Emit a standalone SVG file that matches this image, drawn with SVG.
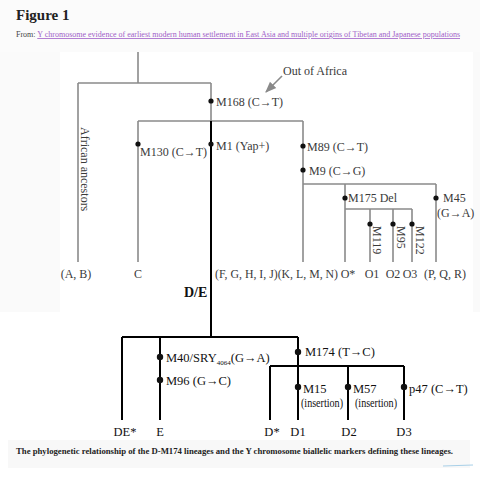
<svg xmlns="http://www.w3.org/2000/svg" width="480" height="495" viewBox="0 0 480 495">
<style>
.g{stroke:#8a8a8a;stroke-width:1.6;fill:none}
.k{stroke:#000;stroke-width:2;fill:none}
.t{font-family:"Liberation Serif","Times New Roman",serif;font-size:12px;fill:#3a3a3a}
.b{font-family:"Liberation Serif","Times New Roman",serif;font-size:12.5px;fill:#111}
.dg{fill:#111}
</style>
<defs>
<marker id="ah" viewBox="0 0 10 10" refX="9" refY="5" markerWidth="7" markerHeight="7" orient="auto">
<path d="M0,1 L10,5 L0,9 z" fill="#8a8a8a"/>
</marker>
</defs>
<rect x="0" y="0" width="480" height="495" fill="#ffffff"/>
<rect x="0" y="0" width="480" height="52" fill="#fbfbfb"/>
<rect x="0" y="52" width="60" height="260" fill="#fafafa"/>
<rect x="473" y="52" width="7" height="260" fill="#fafafa"/>
<rect x="8" y="440" width="462" height="28" fill="#f8f8f8"/>
<text x="16" y="20" font-family="Liberation Serif,serif" font-weight="bold" font-size="15" fill="#222">Figure 1</text>
<text x="16" y="37" font-family="Liberation Serif,serif" font-size="8" fill="#444">From: <tspan fill="#a060c8" text-decoration="underline">Y chromosome evidence of earliest modern human settlement in East Asia and multiple origins of Tibetan and Japanese populations</tspan></text>

<g id="connectors">
<path class="g" d="M138,52 V83 M78,83 H211 M78,83 V262 M211,83 V121 M138,121 H303 M138,121 V262 M303,121 V262 M303,184 H436 M345,184 V262 M436,184 V262 M345,209 H412 M370,209 V262 M393,209 V262 M412,209 V262"/>
<path class="k" d="M211,121 V337 M122,337 H298 M122,337 V420 M160,337 V420 M298,337 V420 M270,366 H404 M270,366 V420 M348,366 V420 M404,366 V420"/>
<line class="g" x1="282" y1="76" x2="266" y2="92" marker-end="url(#ah)" stroke-width="1.2"/>
</g>

<g id="dots" class="dg">
<circle cx="211" cy="101" r="2.6"/>
<circle cx="138" cy="144" r="2.6"/>
<circle cx="211" cy="144" r="2.6"/>
<circle cx="303" cy="146" r="2.6"/>
<circle cx="303" cy="170" r="2.6"/>
<circle cx="345" cy="198" r="2.6"/>
<circle cx="436" cy="198" r="2.6"/>
<circle cx="370" cy="224" r="2.6"/>
<circle cx="393" cy="224" r="2.6"/>
<circle cx="412" cy="224" r="2.6"/>
<circle cx="160" cy="357" r="3.2"/>
<circle cx="160" cy="380" r="3.2"/>
<circle cx="298" cy="352" r="3.2"/>
<circle cx="298" cy="387" r="3.2"/>
<circle cx="348" cy="387" r="3.2"/>
<circle cx="404" cy="387" r="3.2"/>
</g>

<g id="top-labels">
<text class="t" x="283" y="75">Out of Africa</text>
<text class="t" x="216" y="106">M168 (C→T)</text>
<text class="t" x="140" y="156">M130 (C→T)</text>
<text class="t" x="216" y="150">M1 (Yap+)</text>
<text class="t" x="307" y="151">M89 (C→T)</text>
<text class="t" x="309" y="175">M9 (C→G)</text>
<text class="t" x="348" y="202">M175 Del</text>
<text class="t" x="443" y="202">M45</text>
<text class="t" x="437" y="217">(G→A)</text>
<text class="t" transform="translate(373,226) rotate(90)">M119</text>
<text class="t" transform="translate(397,226) rotate(90)">M95</text>
<text class="t" transform="translate(416,226) rotate(90)">M122</text>
<text class="t" font-size="14" transform="translate(81,127) rotate(90)">African ancestors</text>
<text class="t" x="76" y="278" text-anchor="middle">(A, B)</text>
<text class="t" x="138" y="278" text-anchor="middle">C</text>
<text class="t" x="215" y="278" textLength="123" lengthAdjust="spacingAndGlyphs">(F, G, H, I, J)(K, L, M, N)</text>
<text class="t" x="348" y="278" text-anchor="middle">O*</text>
<text class="t" x="372" y="278" text-anchor="middle">O1</text>
<text class="t" x="393" y="278" text-anchor="middle">O2</text>
<text class="t" x="410" y="278" text-anchor="middle">O3</text>
<text class="t" x="445" y="278" text-anchor="middle">(P, Q, R)</text>
<text x="184" y="297" font-family="Liberation Serif,serif" font-weight="bold" font-size="14" fill="#111">D/E</text>
</g>

<g id="bottom-labels">
<text class="b" x="166" y="362">M40/SRY<tspan font-size="7" dy="3">4064</tspan><tspan dy="-3">(G→A)</tspan></text>
<text class="b" x="166" y="385">M96 (G→C)</text>
<text class="b" x="305" y="356">M174 (T→C)</text>
<text class="b" x="303" y="393">M15</text>
<text class="b" x="301" y="407" textLength="42" lengthAdjust="spacingAndGlyphs">(insertion)</text>
<text class="b" x="353" y="393">M57</text>
<text class="b" x="355" y="407" textLength="42" lengthAdjust="spacingAndGlyphs">(insertion)</text>
<text class="b" x="409" y="393">p47 (C→T)</text>
<text class="b" x="125" y="436" text-anchor="middle">DE*</text>
<text class="b" x="160" y="436" text-anchor="middle">E</text>
<text class="b" x="272" y="436" text-anchor="middle">D*</text>
<text class="b" x="298" y="436" text-anchor="middle">D1</text>
<text class="b" x="349" y="436" text-anchor="middle">D2</text>
<text class="b" x="404" y="436" text-anchor="middle">D3</text>
</g>

<text x="16" y="454" font-family="Liberation Serif,serif" font-weight="bold" font-size="8" fill="#222" textLength="437" lengthAdjust="spacingAndGlyphs">The phylogenetic relationship of the D-M174 lineages and the Y chromosome biallelic markers defining these lineages.</text>
<line x1="443" y1="466" x2="473" y2="465" stroke="#a8d0e8" stroke-width="1"/>
</svg>
